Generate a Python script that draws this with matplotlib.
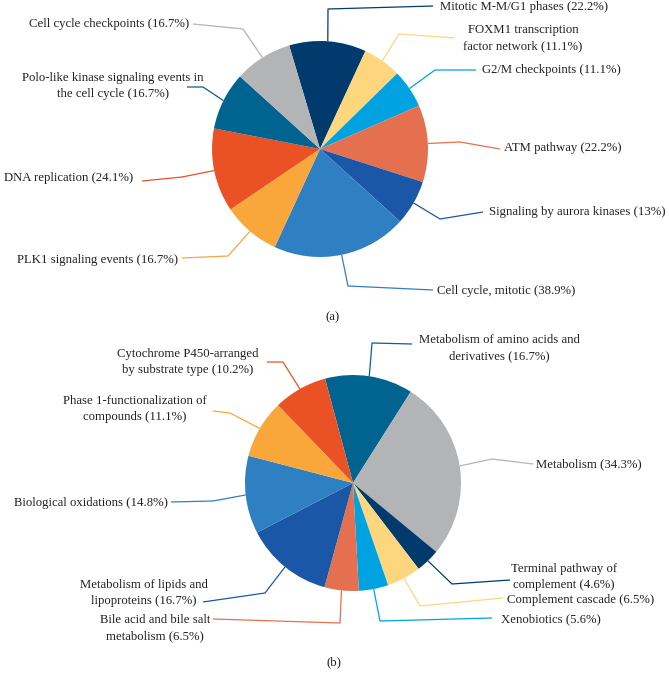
import numpy as np
import matplotlib.pyplot as plt

plt.rcParams['font.family'] = ['Liberation Serif', 'DejaVu Serif']

W, H = 669, 679

# (a) enriched pathways, clockwise from the top
labels_a = ['Mitotic M-M/G1 phases (22.2%)',
            'FOXM1 transcription\nfactor network (11.1%)',
            'G2/M checkpoints (11.1%)',
            'ATM pathway (22.2%)',
            'Signaling by aurora kinases (13%)',
            'Cell cycle, mitotic (38.9%)',
            'PLK1 signaling events (16.7%)',
            'DNA replication (24.1%)',
            'Polo-like kinase signaling events in\nthe cell cycle (16.7%)',
            'Cell cycle checkpoints (16.7%)']
values_a = [22.2, 11.1, 11.1, 22.2, 13, 38.9, 16.7, 24.1, 16.7, 16.7]

# (b) enriched pathways, clockwise from the top
labels_b = ['Metabolism of amino acids and\nderivatives (16.7%)',
            'Metabolism (34.3%)',
            'Terminal pathway of\ncomplement (4.6%)',
            'Complement cascade (6.5%)',
            'Xenobiotics (5.6%)',
            'Bile acid and bile salt\nmetabolism (6.5%)',
            'Metabolism of lipids and\nlipoproteins (16.7%)',
            'Biological oxidations (14.8%)',
            'Phase 1-functionalization of\ncompounds (11.1%)',
            'Cytochrome P450-arranged\nby substrate type (10.2%)']
values_b = [16.7, 34.3, 4.6, 6.5, 5.6, 6.5, 16.7, 14.8, 11.1, 10.2]

navy, yellow, cyan = '#013b6e', '#fdd67e', '#00a3e0'
salmon, blue, midblue = '#e5704f', '#1b57a7', '#2e80c3'
orange, red, teal, grey = '#f9a63b', '#ea5124', '#01638f', '#b2b4b5'
colors_a = [navy, yellow, cyan, salmon, blue, midblue, orange, red, teal, grey]
colors_b = [teal, grey, navy, yellow, cyan, salmon, blue, midblue, orange, red]

# label layout in pixels (y down): elbow, line end, text anchor, alignment
layout_a = [((328, 9), (433, 6), (440, 7), 'left'),
            ((399, 34), (455, 38), (523, 38), 'center'),
            ((435, 70), (476, 70), (482, 70), 'left'),
            ((460, 142), (500, 149), (504, 148), 'left'),
            ((440, 219), (483, 212), (489, 212), 'left'),
            ((348, 286), (433, 290), (437, 291), 'left'),
            ((228, 256), (182, 258), (178, 260), 'right'),
            ((182, 177), (142, 181), (133, 178), 'right'),
            ((203, 87), (187, 87), (113, 86), 'center'),
            ((243, 29), (193, 24), (189, 24), 'right')]
layout_b = [((372, 343), (412, 344), (499, 348), 'center'),
            ((492, 459), (533, 464), (536, 464), 'left'),
            ((452, 584), (510, 580), (564, 577), 'center'),
            ((420, 606), (503, 598), (507, 600), 'left'),
            ((380, 621), (492, 618), (501, 619), 'left'),
            ((340, 623), (213, 619), (155, 628), 'center'),
            ((265, 593), (203, 602), (144, 593), 'center'),
            ((213, 501), (171, 502), (168, 503), 'right'),
            ((230, 413), (213, 411), (135, 409), 'center'),
            ((283, 362), (267, 362), (188, 362), 'center')]

fig = plt.figure(figsize=(W / 100, H / 100), dpi=100)
ax = fig.add_axes([0, 0, 1, 1])

fs = 9.2


def draw(values, colors, labels, layout, center, r, start, tag, tagpos):
    cx, cy = center[0], H - center[1]
    wedges, _ = ax.pie(values, colors=colors, startangle=start, counterclock=False,
                       center=(cx, cy), radius=r, wedgeprops=dict(linewidth=0))
    for w, lab, col, (elb, end, txt, ha) in zip(wedges, labels, colors, layout):
        mid = np.deg2rad((w.theta1 + w.theta2) / 2)
        x0, y0 = cx + r * np.cos(mid), cy + r * np.sin(mid)
        ax.plot([x0, elb[0], end[0]], [y0, H - elb[1], H - end[1]], color=col, lw=0.9,
                solid_capstyle='butt')
        ax.text(txt[0], H - txt[1], lab, ha=ha, va='center', fontsize=fs,
                multialignment='center', linespacing=1.45, color='#222222')
    ax.text(tagpos[0], H - tagpos[1], tag, ha='center', va='center', fontsize=fs, color='#222222')


draw(values_a, colors_a, labels_a, layout_a, (320, 149), 108, 106.6, '(a)', (333, 317))
draw(values_b, colors_b, labels_b, layout_b, (353, 483), 108, 105, '(b)', (334, 662))

ax.set_xlim(0, W)
ax.set_ylim(0, H)
ax.set_aspect('equal')
ax.axis('off')

fig.savefig('out.png', dpi=100)
